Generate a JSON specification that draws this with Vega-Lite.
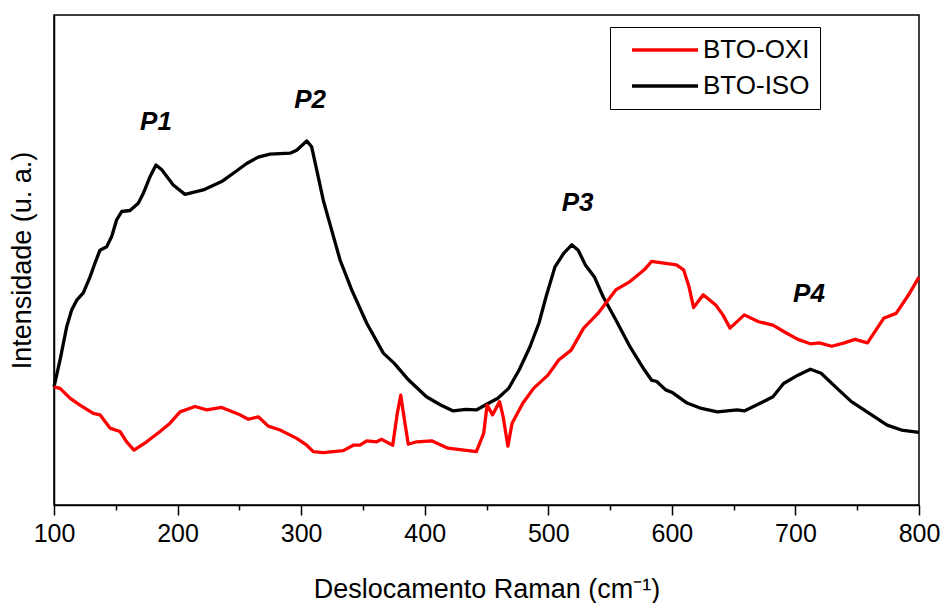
{
  "$schema": "https://vega.github.io/schema/vega-lite/v6.json",
  "width": 865,
  "height": 490,
  "autosize": {"type": "none"},
  "padding": {"left": 54, "top": 15, "right": 25, "bottom": 98},
  "background": "white",
  "config": {
    "view": {"stroke": "black", "strokeWidth": 1.5},
    "font": "Liberation Sans"
  },
  "datasets": {
    "spectra": [
      {"s":"BTO-ISO","x":100,"y":24.1},{"s":"BTO-ISO","x":104.9,"y":29.6},{"s":"BTO-ISO","x":110.3,"y":36.4},{"s":"BTO-ISO","x":114.3,"y":39.8},{"s":"BTO-ISO","x":118.4,"y":41.8},{"s":"BTO-ISO","x":123.7,"y":43.3},{"s":"BTO-ISO","x":129.1,"y":46.5},{"s":"BTO-ISO","x":133.2,"y":49.4},{"s":"BTO-ISO","x":137.2,"y":52.0},{"s":"BTO-ISO","x":142.6,"y":52.7},{"s":"BTO-ISO","x":146.7,"y":54.8},{"s":"BTO-ISO","x":150.7,"y":58.2},{"s":"BTO-ISO","x":154.8,"y":59.9},{"s":"BTO-ISO","x":161.5,"y":60.1},{"s":"BTO-ISO","x":168.2,"y":61.6},{"s":"BTO-ISO","x":172.3,"y":63.6},{"s":"BTO-ISO","x":177.7,"y":67.0},{"s":"BTO-ISO","x":182.5,"y":69.4},{"s":"BTO-ISO","x":187.2,"y":68.4},{"s":"BTO-ISO","x":196.5,"y":65.3},{"s":"BTO-ISO","x":206.0,"y":63.4},{"s":"BTO-ISO","x":220.8,"y":64.3},{"s":"BTO-ISO","x":235.7,"y":66.0},{"s":"BTO-ISO","x":245.1,"y":67.7},{"s":"BTO-ISO","x":255.9,"y":69.7},{"s":"BTO-ISO","x":265.3,"y":71.0},{"s":"BTO-ISO","x":274.8,"y":71.6},{"s":"BTO-ISO","x":291.0,"y":71.8},{"s":"BTO-ISO","x":296.4,"y":72.4},{"s":"BTO-ISO","x":304.5,"y":74.3},{"s":"BTO-ISO","x":308.5,"y":73.1},{"s":"BTO-ISO","x":312.6,"y":68.4},{"s":"BTO-ISO","x":317.9,"y":62.2},{"s":"BTO-ISO","x":324.7,"y":56.1},{"s":"BTO-ISO","x":331.5,"y":50.0},{"s":"BTO-ISO","x":340.9,"y":43.9},{"s":"BTO-ISO","x":353.1,"y":37.1},{"s":"BTO-ISO","x":366.5,"y":31.0},{"s":"BTO-ISO","x":375.4,"y":28.9},{"s":"BTO-ISO","x":387.0,"y":25.5},{"s":"BTO-ISO","x":401.4,"y":22.1},{"s":"BTO-ISO","x":412.9,"y":20.4},{"s":"BTO-ISO","x":423.1,"y":19.2},{"s":"BTO-ISO","x":433.2,"y":19.5},{"s":"BTO-ISO","x":441.8,"y":19.4},{"s":"BTO-ISO","x":450.5,"y":20.6},{"s":"BTO-ISO","x":459.2,"y":21.8},{"s":"BTO-ISO","x":467.9,"y":23.8},{"s":"BTO-ISO","x":476.5,"y":27.6},{"s":"BTO-ISO","x":485.2,"y":32.3},{"s":"BTO-ISO","x":492.4,"y":37.1},{"s":"BTO-ISO","x":498.2,"y":42.5},{"s":"BTO-ISO","x":505.4,"y":48.6},{"s":"BTO-ISO","x":512.6,"y":51.4},{"s":"BTO-ISO","x":519.0,"y":53.1},{"s":"BTO-ISO","x":524.2,"y":52.0},{"s":"BTO-ISO","x":530.0,"y":49.0},{"s":"BTO-ISO","x":537.2,"y":46.6},{"s":"BTO-ISO","x":544.4,"y":42.5},{"s":"BTO-ISO","x":554.6,"y":37.8},{"s":"BTO-ISO","x":566.1,"y":32.3},{"s":"BTO-ISO","x":577.7,"y":27.6},{"s":"BTO-ISO","x":583.5,"y":25.5},{"s":"BTO-ISO","x":587.8,"y":25.2},{"s":"BTO-ISO","x":595.0,"y":23.5},{"s":"BTO-ISO","x":600.8,"y":22.9},{"s":"BTO-ISO","x":612.3,"y":20.8},{"s":"BTO-ISO","x":623.9,"y":19.7},{"s":"BTO-ISO","x":636.9,"y":19.0},{"s":"BTO-ISO","x":652.8,"y":19.4},{"s":"BTO-ISO","x":658.6,"y":19.2},{"s":"BTO-ISO","x":670.2,"y":20.6},{"s":"BTO-ISO","x":681.8,"y":22.1},{"s":"BTO-ISO","x":690.4,"y":24.8},{"s":"BTO-ISO","x":702.0,"y":26.5},{"s":"BTO-ISO","x":712.1,"y":27.7},{"s":"BTO-ISO","x":720.8,"y":26.9},{"s":"BTO-ISO","x":733.7,"y":23.8},{"s":"BTO-ISO","x":745.3,"y":21.1},{"s":"BTO-ISO","x":759.8,"y":18.7},{"s":"BTO-ISO","x":774.2,"y":16.3},{"s":"BTO-ISO","x":785.8,"y":15.3},{"s":"BTO-ISO","x":800,"y":14.8},
      {"s":"BTO-OXI","x":100,"y":24.1},{"s":"BTO-OXI","x":104.9,"y":23.8},{"s":"BTO-OXI","x":112.9,"y":21.8},{"s":"BTO-OXI","x":121.0,"y":20.4},{"s":"BTO-OXI","x":131.8,"y":18.7},{"s":"BTO-OXI","x":137.2,"y":18.4},{"s":"BTO-OXI","x":145.3,"y":15.7},{"s":"BTO-OXI","x":153.4,"y":15.0},{"s":"BTO-OXI","x":158.8,"y":12.9},{"s":"BTO-OXI","x":164.7,"y":11.2},{"s":"BTO-OXI","x":175.0,"y":12.9},{"s":"BTO-OXI","x":185.8,"y":15.0},{"s":"BTO-OXI","x":193.9,"y":16.7},{"s":"BTO-OXI","x":202.0,"y":19.0},{"s":"BTO-OXI","x":214.1,"y":20.1},{"s":"BTO-OXI","x":223.6,"y":19.4},{"s":"BTO-OXI","x":235.7,"y":19.9},{"s":"BTO-OXI","x":250.5,"y":18.4},{"s":"BTO-OXI","x":257.2,"y":17.5},{"s":"BTO-OXI","x":265.3,"y":18.0},{"s":"BTO-OXI","x":273.4,"y":16.1},{"s":"BTO-OXI","x":282.9,"y":15.3},{"s":"BTO-OXI","x":296.4,"y":13.6},{"s":"BTO-OXI","x":304.5,"y":12.2},{"s":"BTO-OXI","x":309.8,"y":10.9},{"s":"BTO-OXI","x":317.9,"y":10.7},{"s":"BTO-OXI","x":326.0,"y":10.9},{"s":"BTO-OXI","x":334.1,"y":11.1},{"s":"BTO-OXI","x":342.2,"y":12.2},{"s":"BTO-OXI","x":347.6,"y":12.2},{"s":"BTO-OXI","x":353.1,"y":13.1},{"s":"BTO-OXI","x":361.1,"y":12.9},{"s":"BTO-OXI","x":365.2,"y":13.4},{"s":"BTO-OXI","x":374.1,"y":12.2},{"s":"BTO-OXI","x":377.8,"y":18.7},{"s":"BTO-OXI","x":380.6,"y":22.4},{"s":"BTO-OXI","x":383.2,"y":18.0},{"s":"BTO-OXI","x":386.7,"y":12.4},{"s":"BTO-OXI","x":393.5,"y":12.9},{"s":"BTO-OXI","x":405.6,"y":13.1},{"s":"BTO-OXI","x":418.8,"y":11.6},{"s":"BTO-OXI","x":441.8,"y":10.9},{"s":"BTO-OXI","x":447.7,"y":14.6},{"s":"BTO-OXI","x":450.5,"y":20.4},{"s":"BTO-OXI","x":454.9,"y":18.4},{"s":"BTO-OXI","x":460.6,"y":21.1},{"s":"BTO-OXI","x":463.5,"y":18.0},{"s":"BTO-OXI","x":467.3,"y":12.0},{"s":"BTO-OXI","x":470.7,"y":16.7},{"s":"BTO-OXI","x":479.5,"y":20.8},{"s":"BTO-OXI","x":488.1,"y":23.8},{"s":"BTO-OXI","x":499.7,"y":26.5},{"s":"BTO-OXI","x":508.4,"y":29.6},{"s":"BTO-OXI","x":518.5,"y":31.6},{"s":"BTO-OXI","x":528.6,"y":36.1},{"s":"BTO-OXI","x":540.2,"y":39.1},{"s":"BTO-OXI","x":554.6,"y":43.9},{"s":"BTO-OXI","x":566.1,"y":45.6},{"s":"BTO-OXI","x":577.7,"y":48.0},{"s":"BTO-OXI","x":583.5,"y":49.7},{"s":"BTO-OXI","x":595.0,"y":49.3},{"s":"BTO-OXI","x":603.7,"y":49.0},{"s":"BTO-OXI","x":609.5,"y":48.0},{"s":"BTO-OXI","x":613.8,"y":44.6},{"s":"BTO-OXI","x":617.6,"y":40.3},{"s":"BTO-OXI","x":625.4,"y":42.9},{"s":"BTO-OXI","x":635.5,"y":40.8},{"s":"BTO-OXI","x":641.3,"y":38.8},{"s":"BTO-OXI","x":647.1,"y":36.1},{"s":"BTO-OXI","x":658.6,"y":38.8},{"s":"BTO-OXI","x":670.2,"y":37.4},{"s":"BTO-OXI","x":681.8,"y":36.7},{"s":"BTO-OXI","x":691.9,"y":35.2},{"s":"BTO-OXI","x":702.0,"y":33.8},{"s":"BTO-OXI","x":712.1,"y":32.9},{"s":"BTO-OXI","x":719.3,"y":33.1},{"s":"BTO-OXI","x":729.4,"y":32.4},{"s":"BTO-OXI","x":739.6,"y":33.1},{"s":"BTO-OXI","x":748.2,"y":33.8},{"s":"BTO-OXI","x":758.3,"y":33.1},{"s":"BTO-OXI","x":771.4,"y":38.1},{"s":"BTO-OXI","x":781.5,"y":39.1},{"s":"BTO-OXI","x":791.6,"y":42.9},{"s":"BTO-OXI","x":800,"y":46.5}
    ],
    "peaks": [
      {"label":"P1","x":182.5,"y":78.2},
      {"label":"P2","x":307.2,"y":82.7},
      {"label":"P3","x":523.7,"y":61.7},
      {"label":"P4","x":711.0,"y":43.1}
    ]
  },
  "resolve": {"axis": {"x": "independent"}},
  "layer": [
    {
      "data": {"name": "spectra"},
      "mark": {"type": "line", "strokeWidth": 3.3, "strokeJoin": "round"},
      "encoding": {
        "x": {
          "field": "x", "type": "quantitative",
          "scale": {"domain": [100, 800], "nice": false, "zero": false},
          "axis": {
            "orient": "bottom",
            "values": [100, 200, 300, 400, 500, 600, 700, 800],
            "title": "Deslocamento Raman (cm⁻¹)",
            "titleFont": "Liberation Sans", "titleFontSize": 27, "titleFontWeight": "normal", "titleColor": "black",
            "titlePadding": 30,
            "labelFont": "Liberation Sans", "labelFontSize": 25, "labelColor": "black", "labelPadding": 6,
            "labelFlush": false, "labelOverlap": false,
            "tickSize": 10, "tickWidth": 1.5, "tickColor": "black",
            "domainColor": "black", "domainWidth": 1.5, "grid": false
          }
        },
        "y": {
          "field": "y", "type": "quantitative",
          "scale": {"domain": [0, 100], "nice": false},
          "axis": {
            "title": "Intensidade (u. a.)",
            "titleFont": "Liberation Sans", "titleFontSize": 27, "titleFontWeight": "normal", "titleColor": "black",
            "titlePadding": 18,
            "labels": false, "ticks": false, "grid": false,
            "domainColor": "black", "domainWidth": 1.5
          }
        },
        "color": {
          "field": "s", "type": "nominal",
          "scale": {"domain": ["BTO-OXI", "BTO-ISO"], "range": ["#ff0000", "#000000"]},
          "legend": {
            "orient": "none", "legendX": 556, "legendY": 12,
            "title": null,
            "symbolType": "M-3.3,0H3.3", "symbolSize": 400, "symbolStrokeWidth": 3.5,
            "symbolOffset": 32, "labelOffset": 25,
            "labelExpr": "datum.label + '\u00a0\u00a0\u00a0'",
            "labelFont": "Liberation Sans", "labelFontSize": 26, "labelColor": "black",
            "strokeColor": "black", "fillColor": "white", "padding": 10, "rowPadding": 10
          }
        },
        "order": {"field": "s", "sort": "descending"}
      }
    },
    {
      "data": {"name": "peaks"},
      "mark": {"type": "text", "font": "Liberation Sans", "fontSize": 26, "fontWeight": "bold", "fontStyle": "italic", "color": "black", "align": "center", "baseline": "middle"},
      "encoding": {
        "x": {
          "field": "x", "type": "quantitative",
          "axis": {
            "orient": "bottom",
            "values": [150, 250, 350, 450, 550, 650, 750],
            "labels": false, "title": null, "domain": false, "grid": false,
            "tickSize": 5, "tickWidth": 1.5, "tickColor": "black"
          }
        },
        "y": {"field": "y", "type": "quantitative"},
        "text": {"field": "label"}
      }
    }
  ]
}
